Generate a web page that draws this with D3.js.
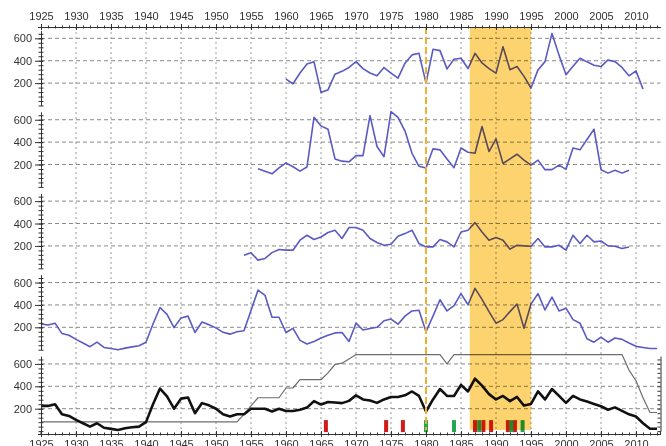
<!DOCTYPE html>
<html>
<head>
<meta charset="utf-8">
<script src="https://cdn.jsdelivr.net/npm/d3@7"></script>
<style>
  body { margin: 0; background: #fff; }
  svg { display: block; font-family: "Liberation Sans", Arial, sans-serif; }
  .band { mix-blend-mode: multiply; }
</style>
</head>
<body>
<div id="chart"></div>
<script>
// Stacked yearly series, 1925-2013

// tick labels
const yearLabels = [1925, 1930, 1935, 1940, 1945, 1950, 1955, 1960, 1965, 1970, 1975, 1980, 1985, 1990, 1995, 2000, 2005, 2010];
const valueLabels = [200, 400, 600];

// panel 1 (blue), from 1960
const p1Start = 1960;
const p1Values = [235, 194, 290, 370, 390, 117, 140, 280, 305, 340,
  392, 330, 290, 265, 339, 290, 244, 378, 452, 466,
  200, 502, 490, 327, 413, 422, 330, 466, 380, 330,
  289, 525, 320, 348, 260, 156, 318, 392, 644, 450,
  274, 350, 422, 390, 360, 348, 407, 392, 340, 265,
  309, 147];

// panel 2 (blue), from 1956
const p2Start = 1956;
const p2Values = [163, 140, 117, 170, 215, 180, 141, 178, 622, 545,
  515, 250, 230, 224, 279, 279, 637, 361, 270, 673,
  622, 499, 300, 184, 169, 340, 331, 250, 172, 347,
  310, 301, 539, 316, 429, 209, 250, 292, 240, 194,
  239, 154, 154, 194, 157, 347, 331, 423, 515, 154,
  123, 148, 123, 148];

// panel 3 (blue), from 1954
const p3Start = 1954;
const p3Values = [117, 138, 73, 88, 140, 168, 162, 162, 251, 295,
  257, 280, 320, 340, 266, 364, 364, 340, 266, 230,
  206, 215, 286, 310, 340, 221, 191, 191, 257, 236,
  191, 324, 340, 408, 324, 251, 275, 251, 171, 206,
  200, 197, 266, 191, 191, 206, 162, 295, 221, 295,
  236, 244, 200, 197, 177, 191];

// panel 4 (blue), from 1925
const p4Start = 1925;
const p4Values = [230, 220, 237, 144, 129, 92, 60, 27, 67, 20,
  10, 0, 14, 25, 36, 67, 230, 377, 315, 197,
  284, 300, 154, 247, 222, 195, 155, 139, 160, 169,
  350, 532, 486, 290, 290, 154, 191, 83, 51, 73,
  104, 130, 150, 154, 73, 237, 176, 190, 200, 259,
  274, 228, 300, 346, 353, 160, 300, 446, 346, 393,
  501, 402, 548, 450, 340, 237, 269, 340, 408, 191,
  408, 501, 355, 470, 346, 371, 269, 237, 98, 67,
  113, 67, 104, 92, 60, 30, 20, 11, 11];

// panel 5: black total and thin gray line, from 1925
const p5Start = 1925;
const blackValues = [225, 225, 240, 150, 135, 100, 70, 40, 70, 30,
  20, 10, 25, 35, 40, 80, 240, 380, 310, 200,
  290, 300, 160, 250, 230, 200, 150, 130, 150, 150,
  200, 200, 200, 175, 200, 180, 180, 190, 210, 268,
  237, 260, 255, 250, 270, 320, 283, 274, 252, 283,
  305, 305, 320, 354, 314, 175, 283, 376, 314, 314,
  413, 354, 468, 406, 330, 283, 314, 268, 305, 228,
  243, 354, 283, 376, 314, 252, 314, 283, 265, 243,
  222, 191, 212, 180, 150, 130, 70, 21, 21];
const grayValues = [83, 83, 83, 83, 83, 83, 83, 83, 83, 83,
  83, 83, 83, 83, 83, 83, 83, 83, 83, 83,
  83, 83, 83, 83, 83, 83, 83, 83, 83, 150,
  225, 298, 298, 298, 298, 385, 385, 459, 459, 459,
  459, 520, 595, 607, 645, 684, 684, 684, 684, 684,
  684, 684, 684, 684, 684, 684, 684, 684, 600, 684,
  684, 684, 684, 684, 684, 684, 684, 684, 684, 684,
  684, 684, 684, 684, 684, 684, 684, 684, 684, 684,
  684, 684, 684, 684, 545, 450, 298, 166, 166];

// event marks along the bottom of panel 5
const redEvents = [1965.7, 1974.3, 1976.7, 1987.0, 1988.2, 1989.3, 1991.7, 1992.7];
const greenEvents = [1980.0, 1984.0, 1987.6, 1992.2, 1993.8];

// highlighted period and marker year
const bandYears = [1986.25, 1995];
const markerYear = 1980;

const W = 666, H = 446;
const axisTopY = 27, axisBottomY = 434;
const panelH = 75;
const panelTop = i => 30.5 + i * 81.4;

const svg = d3.select('#chart').append('svg')
  .attr('width', W)
  .attr('height', H);

const x = d3.scaleLinear().domain([1924.5, 2013.5]).range([37.5, 660.5]);
const yScales = d3.range(5).map(i => d3.scaleLinear()
  .domain([0, 670])
  .range([panelTop(i) + panelH, panelTop(i)]));

const toPoints = (start, values) => values.map((v, i) => ({ year: start + i, value: v }));

const panels = [
  [{ data: toPoints(p1Start, p1Values), color: '#5a5ac4', width: 1.6 }],
  [{ data: toPoints(p2Start, p2Values), color: '#5a5ac4', width: 1.6 }],
  [{ data: toPoints(p3Start, p3Values), color: '#5a5ac4', width: 1.6 }],
  [{ data: toPoints(p4Start, p4Values), color: '#5a5ac4', width: 1.6 }],
  [
    { data: toPoints(p5Start, grayValues), color: '#6e6e6e', width: 1.2 },
    { data: toPoints(p5Start, blackValues), color: '#111', width: 2.6 }
  ]
];

// vertical dotted grid
svg.append('g')
  .selectAll('line')
  .data(yearLabels.slice(1))
  .join('line')
  .attr('x1', d => x(d)).attr('x2', d => x(d))
  .attr('y1', axisTopY).attr('y2', axisBottomY)
  .attr('stroke', '#9a9a9a')
  .attr('stroke-width', 1)
  .attr('stroke-dasharray', '2,3');

// horizontal dashed grid per panel
yScales.forEach(y => {
  svg.append('g')
    .selectAll('line')
    .data(valueLabels)
    .join('line')
    .attr('x1', x(1925)).attr('x2', x(2013.5))
    .attr('y1', d => y(d)).attr('y2', d => y(d))
    .attr('stroke', '#8a8a8a')
    .attr('stroke-width', 1)
    .attr('stroke-dasharray', '4,3');
});

// data lines
panels.forEach((series, i) => {
  const y = yScales[i];
  const line = d3.line().x(d => x(d.year)).y(d => y(d.value));
  series.forEach(s => {
    svg.append('path')
      .datum(s.data)
      .attr('fill', 'none')
      .attr('stroke', s.color)
      .attr('stroke-width', s.width)
      .attr('stroke-linejoin', 'round')
      .attr('d', line);
  });
});

// event bars
const y5 = yScales[4];
const barTop = y5(0) - 11;
svg.append('g')
  .selectAll('rect')
  .data(redEvents.map(d => ({ year: d, color: '#d01c1c' }))
    .concat(greenEvents.map(d => ({ year: d, color: '#25a552' }))))
  .join('rect')
  .attr('x', d => x(d.year) - 2)
  .attr('y', barTop)
  .attr('width', 4)
  .attr('height', 12)
  .attr('fill', d => d.color);

// highlighted period, multiplied over the lines
svg.append('rect')
  .attr('class', 'band')
  .attr('x', x(bandYears[0]))
  .attr('y', axisTopY)
  .attr('width', x(bandYears[1]) - x(bandYears[0]))
  .attr('height', 430 - axisTopY)
  .attr('fill', '#fdd36f');

// marker year
svg.append('line')
  .attr('x1', x(markerYear)).attr('x2', x(markerYear))
  .attr('y1', axisTopY).attr('y2', 430)
  .attr('stroke', '#f0b030')
  .attr('stroke-width', 2)
  .attr('stroke-dasharray', '7,3');

// axes styling helper
function styleAxis(g) {
  g.selectAll('path').attr('stroke', '#333');
  g.selectAll('line').attr('stroke', '#333');
  g.selectAll('text').attr('fill', '#333').style('font-size', '11px');
}

const minorYears = d3.range(1925, 2014);
const minorValues = d3.range(0, 680, 40);

// top axis
const topMinor = svg.append('g')
  .attr('transform', `translate(0,${axisTopY})`)
  .call(d3.axisTop(x).tickValues(minorYears).tickFormat('').tickSize(1.5).tickSizeOuter(0));
topMinor.selectAll('.tick line').attr('y1', 1.5);
styleAxis(topMinor);
const topAxis = svg.append('g')
  .attr('transform', `translate(0,${axisTopY})`)
  .call(d3.axisTop(x).tickValues(yearLabels).tickFormat(d3.format('d')).tickSize(3).tickPadding(4).tickSizeOuter(0));
topAxis.selectAll('.tick line').attr('y1', 3);
styleAxis(topAxis);

// bottom axis
const botMinor = svg.append('g')
  .attr('transform', `translate(0,${axisBottomY})`)
  .call(d3.axisBottom(x).tickValues(minorYears).tickFormat('').tickSize(1.5).tickSizeOuter(0));
botMinor.selectAll('.tick line').attr('y1', -1.5);
styleAxis(botMinor);
const botAxis = svg.append('g')
  .attr('transform', `translate(0,${axisBottomY})`)
  .call(d3.axisBottom(x).tickValues(yearLabels).tickFormat(d3.format('d')).tickSize(3).tickPadding(3).tickSizeOuter(0));
botAxis.selectAll('.tick line').attr('y1', -3);
styleAxis(botAxis);

// left axes per panel
yScales.forEach((y, i) => {
  const left = x(1925);
  const gm = svg.append('g')
    .attr('transform', `translate(${left},0)`)
    .call(d3.axisLeft(y).tickValues(minorValues).tickFormat('').tickSize(2.5).tickSizeOuter(0));
  gm.selectAll('.tick line').attr('x1', 2.5);
  styleAxis(gm);
  const ga = svg.append('g')
    .attr('transform', `translate(${left},0)`)
    .call(d3.axisLeft(y).tickValues(valueLabels).tickSize(6).tickPadding(3).tickSizeOuter(0));
  ga.selectAll('.tick line').attr('x1', 2);
  ga.select('.domain').remove();
  styleAxis(ga);
});

// panel 5 axis reaches the bottom axis
svg.append('line')
  .attr('x1', x(1925)).attr('x2', x(1925))
  .attr('y1', y5(0)).attr('y2', axisBottomY)
  .attr('stroke', '#333');

// right axis of panel 5
const right = svg.append('g')
  .attr('transform', `translate(${x(2013.5)},0)`)
  .call(d3.axisRight(y5).tickValues(minorValues).tickFormat('').tickSize(-3).tickSizeOuter(0));
styleAxis(right);
svg.append('line')
  .attr('x1', x(2013.5)).attr('x2', x(2013.5))
  .attr('y1', y5(0)).attr('y2', axisBottomY)
  .attr('stroke', '#333');
</script>
</body>
</html>
